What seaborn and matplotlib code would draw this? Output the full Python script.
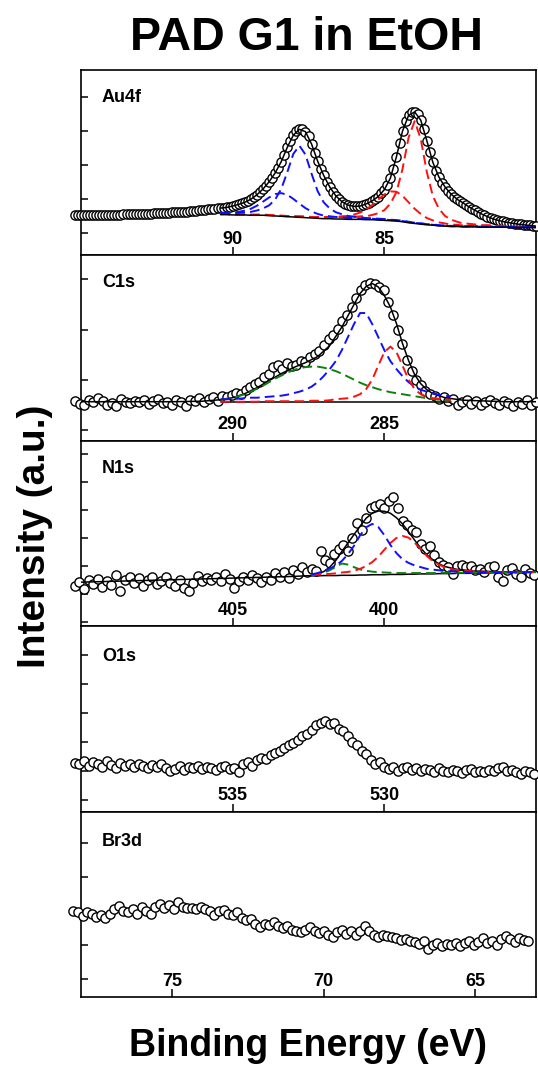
import numpy as np
import matplotlib
matplotlib.use("Agg")
import matplotlib.pyplot as plt
import seaborn as sns

# ---------------- DATA (intensity in arbitrary units, one unit = one y tick) ----------------
# Au4f: measured points, 95.2 -> 80.0 eV (step 0.1)
au_y = [0.53, 0.53, 0.53, 0.53, 0.53, 0.54, 0.54, 0.54, 0.54, 0.54,
        0.54, 0.55, 0.55, 0.55, 0.55, 0.55, 0.56, 0.56, 0.56, 0.56,
        0.57, 0.57, 0.57, 0.58, 0.58, 0.58, 0.59, 0.59, 0.60, 0.60,
        0.61, 0.61, 0.62, 0.62, 0.63, 0.63, 0.64, 0.64, 0.65, 0.66,
        0.66, 0.67, 0.68, 0.69, 0.70, 0.71, 0.72, 0.73, 0.74, 0.75,
        0.76, 0.78, 0.80, 0.82, 0.85, 0.88, 0.91, 0.95, 1.00, 1.06,
        1.13, 1.21, 1.30, 1.40, 1.51, 1.63, 1.77, 1.92, 2.10, 2.30,
        2.52, 2.72, 2.88, 2.99, 3.05, 3.05, 2.98, 2.84, 2.62, 2.36,
        2.12, 1.90, 1.70, 1.52, 1.36, 1.22, 1.10, 1.00, 0.93, 0.87,
        0.83, 0.80, 0.79, 0.79, 0.80, 0.83, 0.86, 0.90, 0.95, 1.01,
        1.08, 1.17, 1.28, 1.42, 1.62, 1.90, 2.25, 2.65, 3.00, 3.28,
        3.46, 3.55, 3.56, 3.49, 3.32, 3.06, 2.72, 2.38, 2.08, 1.84,
        1.65, 1.49, 1.36, 1.25, 1.15, 1.07, 1.00, 0.95, 0.89, 0.83,
        0.77, 0.72, 0.67, 0.62, 0.57, 0.53, 0.49, 0.45, 0.42, 0.39,
        0.37, 0.35, 0.33, 0.31, 0.30, 0.28, 0.27, 0.26, 0.25, 0.24,
        0.23, 0.22, 0.21]
au_e_range = [95.2, 80.0]
# Au4f fit curves, 90.4 -> 80.0 eV (step 0.2)
au_fit_range = [90.4, 80.0]
au_bg = [0.55, 0.55, 0.54, 0.54, 0.54, 0.53, 0.53, 0.53, 0.52, 0.51,
         0.50, 0.49, 0.48, 0.47, 0.46, 0.45, 0.44, 0.43, 0.43, 0.42,
         0.42, 0.41, 0.41, 0.41, 0.40, 0.40, 0.39, 0.38, 0.37, 0.36,
         0.34, 0.31, 0.29, 0.27, 0.25, 0.24, 0.22, 0.21, 0.20, 0.20,
         0.19, 0.19, 0.19, 0.18, 0.18, 0.18, 0.18, 0.18, 0.17, 0.17,
         0.17, 0.17, 0.17]
au_blue_main = [0.59, 0.59, 0.59, 0.60, 0.62, 0.63, 0.67, 0.73, 0.82, 0.99,
                1.30, 1.79, 2.33, 2.57, 2.31, 1.75, 1.24, 0.91, 0.73, 0.62,
                0.56, 0.51, 0.49, 0.47, 0.45, 0.44, 0.43, 0.42, 0.40, 0.39,
                0.37, 0.34, 0.31, 0.29, 0.27, 0.26, 0.24, 0.23, 0.22, 0.22,
                0.21, 0.21, 0.20, 0.19, 0.19, 0.19, 0.19, 0.19, 0.18, 0.18,
                0.18, 0.18, 0.18]
au_blue_small = [0.60, 0.61, 0.61, 0.63, 0.67, 0.72, 0.81, 0.93, 1.05, 1.15,
                 1.18, 1.13, 1.01, 0.87, 0.74, 0.64, 0.57, 0.52, 0.50, 0.48,
                 0.47, 0.45, 0.45, 0.44, 0.43, 0.43, 0.41, 0.40, 0.39, 0.38,
                 0.36, 0.33, 0.31, 0.29, 0.27, 0.25, 0.23, 0.22, 0.21, 0.21,
                 0.20, 0.20, 0.20, 0.19, 0.19, 0.19, 0.19, 0.19, 0.19, 0.18,
                 0.18, 0.18, 0.18]
au_red_main = [0.57, 0.57, 0.56, 0.56, 0.56, 0.55, 0.55, 0.55, 0.54, 0.53,
               0.52, 0.51, 0.50, 0.50, 0.49, 0.48, 0.48, 0.47, 0.47, 0.47,
               0.48, 0.48, 0.48, 0.50, 0.50, 0.54, 0.59, 0.68, 0.87, 1.21,
               1.89, 2.81, 3.29, 2.77, 1.80, 1.09, 0.72, 0.51, 0.40, 0.34,
               0.29, 0.28, 0.26, 0.24, 0.24, 0.23, 0.22, 0.22, 0.20, 0.20,
               0.20, 0.20, 0.20]
au_red_small = [0.56, 0.56, 0.55, 0.55, 0.55, 0.54, 0.54, 0.54, 0.53, 0.52,
                0.51, 0.50, 0.50, 0.49, 0.49, 0.48, 0.48, 0.48, 0.48, 0.48,
                0.50, 0.51, 0.55, 0.61, 0.70, 0.83, 0.99, 1.14, 1.23, 1.22,
                1.10, 0.91, 0.72, 0.57, 0.45, 0.38, 0.32, 0.29, 0.26, 0.25,
                0.23, 0.23, 0.22, 0.21, 0.21, 0.20, 0.20, 0.20, 0.19, 0.19,
                0.19, 0.18, 0.18]
au_env = [0.74, 0.76, 0.80, 0.85, 0.91, 1.00, 1.13, 1.30, 1.51, 1.77,
          2.10, 2.52, 2.88, 3.05, 2.98, 2.62, 2.12, 1.70, 1.36, 1.10,
          0.93, 0.83, 0.79, 0.80, 0.86, 0.95, 1.08, 1.28, 1.62, 2.25,
          3.00, 3.46, 3.56, 3.32, 2.72, 2.08, 1.65, 1.36, 1.15, 1.00,
          0.89, 0.77, 0.67, 0.57, 0.49, 0.42, 0.37, 0.33, 0.30, 0.27,
          0.25, 0.23, 0.21]

# C1s: measured points 295.2 -> 280.0 eV
c_y = [0.58, 0.52, 0.49, 0.60, 0.55, 0.63, 0.57, 0.50, 0.54, 0.47,
       0.62, 0.56, 0.53, 0.58, 0.55, 0.60, 0.52, 0.57, 0.61, 0.54,
       0.56, 0.50, 0.59, 0.55, 0.48, 0.60, 0.57, 0.64, 0.55, 0.62,
       0.66, 0.58, 0.68, 0.65, 0.70, 0.74, 0.72, 0.80, 0.85, 0.92,
       0.96, 1.05, 1.12, 1.25, 1.30, 1.22, 1.33, 1.28, 1.30, 1.38,
       1.35, 1.45, 1.52, 1.58, 1.70, 1.82, 1.90, 2.02, 2.18, 2.30,
       2.45, 2.62, 2.78, 2.88, 2.92, 2.90, 2.84, 2.78, 2.55, 2.30,
       2.00, 1.72, 1.40, 1.18, 1.00, 0.90, 0.78, 0.72, 0.68, 0.62,
       0.66, 0.58, 0.62, 0.50, 0.56, 0.60, 0.52, 0.58, 0.49, 0.55,
       0.60, 0.53, 0.50, 0.58, 0.54, 0.47, 0.56, 0.52, 0.59, 0.50,
       0.55]
c_e_range = [295.2, 280.0]
# C1s fit curves 290.4 -> 282.8 eV (step 0.2)
c_fit_range = [290.4, 282.8]
c_red = [0.56, 0.56, 0.56, 0.56, 0.56, 0.56, 0.56, 0.57, 0.57, 0.57,
         0.57, 0.57, 0.57, 0.57, 0.57, 0.58, 0.58, 0.58, 0.59, 0.61,
         0.62, 0.63, 0.66, 0.71, 0.81, 1.00, 1.28, 1.55, 1.66, 1.55,
         1.28, 1.00, 0.81, 0.71, 0.66, 0.63, 0.62, 0.61, 0.60]
c_blue = [0.61, 0.61, 0.62, 0.62, 0.63, 0.64, 0.64, 0.65, 0.66, 0.67,
          0.68, 0.70, 0.73, 0.76, 0.80, 0.86, 0.95, 1.07, 1.21, 1.37,
          1.59, 1.85, 2.11, 2.33, 2.33, 2.11, 1.85, 1.59, 1.37, 1.21,
          1.07, 0.95, 0.86, 0.80, 0.76, 0.73, 0.70, 0.68, 0.67]
c_green = [0.60, 0.62, 0.64, 0.67, 0.71, 0.76, 0.82, 0.88, 0.95, 1.02,
           1.08, 1.14, 1.19, 1.23, 1.25, 1.26, 1.26, 1.24, 1.21, 1.17,
           1.12, 1.06, 1.00, 0.94, 0.89, 0.85, 0.81, 0.78, 0.75, 0.73,
           0.71, 0.69, 0.67, 0.65, 0.63, 0.61, 0.60, 0.59, 0.58]
c_bg_e = [290.4, 282.8]
c_bg = [0.56, 0.56]
c_env_e = [295.0, 292.0, 291.0, 290.4, 290.0, 289.6, 289.2, 288.8, 288.4, 288.0,
           287.6, 287.2, 286.8, 286.4, 286.0, 285.8, 285.6, 285.4, 285.2, 285.0,
           284.8, 284.6, 284.4, 284.2, 284.0, 283.8, 283.6, 283.4, 283.0, 282.4,
           281.0, 280.0]
c_env = [0.56, 0.56, 0.57, 0.60, 0.64, 0.72, 0.84, 0.98, 1.12, 1.24,
         1.34, 1.46, 1.68, 2.05, 2.50, 2.72, 2.86, 2.92, 2.85, 2.68,
         2.45, 2.12, 1.72, 1.38, 1.10, 0.92, 0.80, 0.72, 0.64, 0.59,
         0.56, 0.56]

# N1s: measured points 410.2 -> 395.05 eV
n_y = [1.30, 1.42, 1.18, 1.50, 1.36, 1.55, 1.24, 1.45, 1.32, 1.68,
       1.10, 1.50, 1.62, 1.38, 1.56, 1.30, 1.52, 1.60, 1.35, 1.48,
       1.62, 1.40, 1.28, 1.50, 1.20, 1.10, 1.38, 1.66, 1.45, 1.56,
       1.50, 1.62, 1.48, 1.70, 1.55, 1.22, 1.45, 1.62, 1.50, 1.68,
       1.56, 1.44, 1.60, 1.52, 1.75, 1.62, 1.80, 1.58, 1.85, 1.70,
       1.95, 1.78, 1.90, 1.82, 2.55, 2.20, 2.10, 2.42, 2.60, 2.75,
       2.55, 3.00, 3.55, 3.30, 3.72, 4.05, 4.15, 4.20, 4.05, 4.30,
       4.45, 4.05, 3.60, 3.45, 3.30, 3.20, 2.80, 2.60, 2.70, 2.40,
       2.15, 2.05, 1.95, 1.70, 2.00, 2.05, 1.95, 2.00, 1.85, 1.90,
       1.80, 1.95, 2.00, 1.60, 1.45, 1.85, 1.92, 1.70, 1.62, 1.90,
       1.75, 1.68]
n_e_range = [410.2, 395.05]
# N1s fit curves 402.4 -> 395.0 eV (step 0.2)
n_fit_range = [402.4, 395.0]
n_bg = [1.65, 1.65, 1.66, 1.66, 1.66, 1.67, 1.67, 1.67, 1.68, 1.68,
        1.69, 1.69, 1.69, 1.70, 1.70, 1.70, 1.71, 1.71, 1.72, 1.72,
        1.72, 1.73, 1.73, 1.73, 1.74, 1.74, 1.74, 1.75, 1.75, 1.75,
        1.76, 1.76, 1.76, 1.77, 1.77, 1.77, 1.78, 1.78]
n_blue = [1.70, 1.75, 1.82, 1.91, 2.02, 2.18, 2.42, 2.72, 3.09, 3.38,
          3.50, 3.39, 3.10, 2.75, 2.46, 2.24, 2.11, 2.02, 1.96, 1.90,
          1.87, 1.85, 1.82, 1.81, 1.80, 1.79, 1.79, 1.79, 1.79, 1.78,
          1.78, 1.78, 1.78, 1.78, 1.78, 1.78, 1.78, 1.78]
n_red = [1.69, 1.69, 1.71, 1.72, 1.74, 1.77, 1.79, 1.83, 1.90, 2.00,
         2.14, 2.33, 2.58, 2.82, 3.00, 3.07, 3.01, 2.83, 2.61, 2.36,
         2.17, 2.05, 1.95, 1.89, 1.86, 1.84, 1.82, 1.81, 1.80, 1.79,
         1.79, 1.79, 1.78, 1.78, 1.78, 1.78, 1.78, 1.78]
n_green = [1.68, 1.72, 1.76, 1.85, 1.97, 2.09, 2.05, 1.96, 1.88, 1.83,
           1.80, 1.78, 1.77, 1.76, 1.75, 1.75, 1.75, 1.75, 1.75, 1.75,
           1.75, 1.76, 1.76, 1.76, 1.76, 1.76, 1.76, 1.77, 1.77, 1.77,
           1.77, 1.77, 1.77, 1.77, 1.77, 1.78, 1.78, 1.78]
n_env_e = [410.2, 406.0, 403.0, 402.4, 402.2, 402.0, 401.8, 401.6, 401.4, 401.2,
           401.0, 400.8, 400.6, 400.4, 400.2, 400.0, 399.8, 399.6, 399.4, 399.2,
           399.0, 398.8, 398.6, 398.4, 398.2, 398.0, 397.6, 397.0, 396.0, 395.0]
n_env = [1.42, 1.54, 1.63, 1.66, 1.72, 1.80, 1.96, 2.20, 2.52, 2.82,
         3.12, 3.42, 3.70, 3.88, 3.96, 3.95, 3.88, 3.72, 3.50, 3.22,
         2.92, 2.64, 2.40, 2.22, 2.08, 1.98, 1.88, 1.82, 1.79, 1.78]

# O1s: measured points 540.2 -> 525.05 eV
o_y = [1.28, 1.22, 1.35, 1.18, 1.30, 1.25, 1.14, 1.32, 1.20, 1.10,
       1.26, 1.15, 1.22, 1.12, 1.24, 1.18, 1.08, 1.20, 1.14, 1.25,
       1.10, 1.00, 1.06, 1.15, 1.02, 1.12, 1.08, 1.18, 1.05, 1.14,
       1.10, 1.02, 1.12, 1.16, 1.06, 1.10, 0.94, 1.22, 1.30, 1.18,
       1.38, 1.45, 1.40, 1.55, 1.62, 1.68, 1.78, 1.90, 1.96, 2.05,
       2.20, 2.28, 2.40, 2.58, 2.65, 2.72, 2.62, 2.66, 2.45, 2.38,
       2.20, 1.98, 1.90, 1.70, 1.58, 1.36, 1.25, 1.30, 1.12, 1.05,
       1.12, 1.00, 1.08, 1.14, 1.04, 1.10, 0.98, 1.06, 1.02, 0.96,
       1.08, 1.00, 0.94, 1.04, 0.98, 0.92, 1.02, 1.06, 0.96, 1.00,
       0.94, 1.04, 0.98, 1.08, 1.12, 1.00, 1.04, 0.95, 0.90, 0.98,
       0.94, 0.90]
o_e_range = [540.2, 525.05]

# Br3d: measured points 78.25 -> 63.25 eV
br_y = [1.98, 1.95, 1.84, 1.96, 1.90, 1.82, 1.88, 1.78, 1.92, 2.05,
        2.15, 1.98, 1.95, 2.05, 1.92, 2.10, 2.00, 1.92, 2.10, 2.20,
        2.08, 2.16, 2.04, 2.26, 2.10, 2.08, 2.08, 2.06, 2.10, 2.05,
        2.00, 1.88, 1.98, 2.02, 1.92, 1.88, 1.96, 1.80, 1.72, 1.76,
        1.60, 1.52, 1.62, 1.58, 1.66, 1.55, 1.48, 1.56, 1.45, 1.42,
        1.38, 1.45, 1.52, 1.40, 1.35, 1.42, 1.30, 1.24, 1.38, 1.45,
        1.32, 1.40, 1.30, 1.42, 1.55, 1.42, 1.30, 1.22, 1.30, 1.26,
        1.22, 1.20, 1.15, 1.18, 1.12, 1.08, 1.02, 1.10, 0.88, 1.00,
        1.04, 0.98, 1.02, 1.00, 1.04, 0.98, 1.04, 1.10, 1.00, 1.08,
        1.20, 1.05, 1.12, 1.00, 1.16, 1.25, 1.18, 1.08, 1.20, 1.14,
        1.12]
br_e_range = [78.25, 63.25]

panel_names = ["Au4f", "C1s", "N1s", "O1s", "Br3d"]
panel_xlims = [(95, 80), (295, 280), (410, 395), (540, 525), (78, 63)]
panel_xticks = [[90, 85], [290, 285], [405, 400], [535, 530], [75, 70, 65]]
panel_ylims = [(-0.647, 4.79), (-0.22, 3.48), (-0.143, 6.46), (-0.417, 6.01), (-0.53, 4.91)]
panel_yticks = [[0, 1, 2, 3, 4], [0, 1, 2, 3], [0, 1, 2, 3, 4, 5, 6], [0, 1, 2, 3, 4, 5], [0, 1, 2, 3, 4]]

# ---------------- STYLE ----------------
sns.set_style("ticks")
plt.rcParams["font.family"] = ["Liberation Sans", "DejaVu Sans"]
plt.rcParams["font.weight"] = "bold"
plt.rcParams["text.color"] = "black"
plt.rcParams["axes.labelcolor"] = "black"
plt.rcParams["xtick.color"] = "black"
plt.rcParams["ytick.color"] = "black"
plt.rcParams["axes.edgecolor"] = "black"

W, H = 538, 1073
fig = plt.figure(figsize=(W / 100, H / 100), dpi=100)
gs = fig.add_gridspec(5, 1, left=81 / W, right=536 / W, top=1 - 70 / H,
                      bottom=1 - 997 / H, hspace=0)
axes = [fig.add_subplot(gs[i]) for i in range(5)]

RED, BLUE, GREEN = "#ff1010", "#1010ff", "#108010"
DASH = (0, (5.0, 2.6))


def grid(rng, n):
    return np.linspace(rng[0], rng[1], n)


def points(ax, e, y):
    sns.scatterplot(x=e, y=y, ax=ax, marker="o", s=44, color="white",
                    edgecolor="black", linewidth=1.0, clip_on=False,
                    zorder=3, legend=False)


def line(ax, e, y, color, dashed=False, lw=1.4):
    sns.lineplot(x=np.asarray(e, float), y=np.asarray(y, float), ax=ax,
                 color=color, linewidth=lw, estimator=None, sort=False,
                 legend=False, zorder=5,
                 linestyle=DASH if dashed else "-")


# Au4f
ax = axes[0]
points(ax, grid(au_e_range, len(au_y)), au_y)
fe = grid(au_fit_range, len(au_bg))
for comp, col in [(au_red_small, RED), (au_red_main, RED),
                  (au_blue_small, BLUE), (au_blue_main, BLUE)]:
    line(ax, fe, comp, col, dashed=True)
line(ax, fe, au_bg, "black", lw=1.1)
line(ax, fe, au_env, "black", lw=1.1)

# C1s
ax = axes[1]
points(ax, grid(c_e_range, len(c_y)), c_y)
fe = grid(c_fit_range, len(c_red))
line(ax, c_bg_e, c_bg, "black", lw=1.1)
line(ax, c_env_e, c_env, "black", lw=1.1)
for comp, col in [(c_green, GREEN), (c_blue, BLUE), (c_red, RED)]:
    line(ax, fe, comp, col, dashed=True)

# N1s
ax = axes[2]
points(ax, grid(n_e_range, len(n_y)), n_y)
fe = grid(n_fit_range, len(n_bg))
line(ax, fe, n_bg, "black", lw=1.1)
line(ax, n_env_e, n_env, "black", lw=1.1)
for comp, col in [(n_green, GREEN), (n_red, RED), (n_blue, BLUE)]:
    line(ax, fe, comp, col, dashed=True)

# O1s
points(axes[3], grid(o_e_range, len(o_y)), o_y)

# Br3d
points(axes[4], grid(br_e_range, len(br_y)), br_y)

label_y = [0.852, 0.855, 0.85, 0.835, 0.84]
for i, ax in enumerate(axes):
    ax.set_xlim(*panel_xlims[i])
    ax.set_ylim(*panel_ylims[i])
    ax.set_xticks(panel_xticks[i])
    ax.set_yticks(panel_yticks[i])
    ax.set_xlabel("")
    ax.set_ylabel("")
    ax.tick_params(axis="x", direction="in", length=6, width=1.1, pad=-17.5,
                   labelsize=13, bottom=True, top=False, colors="black")
    ax.tick_params(axis="y", direction="in", length=5, width=1.1,
                   left=True, right=False, labelleft=False, colors="black")
    for lab in ax.get_xticklabels():
        lab.set_fontweight("bold")
        lab.set_color("black")
    for sp in ax.spines.values():
        sp.set_visible(True)
        sp.set_linewidth(1.2)
        sp.set_color("black")
    ax.text(0.046, label_y[i], panel_names[i], transform=ax.transAxes,
            fontsize=13, fontweight="bold", ha="left", va="center",
            color="black")

fig.text(306 / W, 1 - 50 / H, "PAD G1 in EtOH", ha="center", va="baseline",
         fontsize=33.5, fontweight="bold", color="black")
fig.text(308 / W, 1 - 1056 / H, "Binding Energy (eV)", ha="center",
         va="baseline", fontsize=27, fontweight="bold", color="black")
fig.text(35 / W, 1 - 536 / H, "Intensity (a.u.)", ha="center", va="center",
         rotation=90, fontsize=28, fontweight="bold", color="black")

fig.savefig("out.png", dpi=100, facecolor="white")
